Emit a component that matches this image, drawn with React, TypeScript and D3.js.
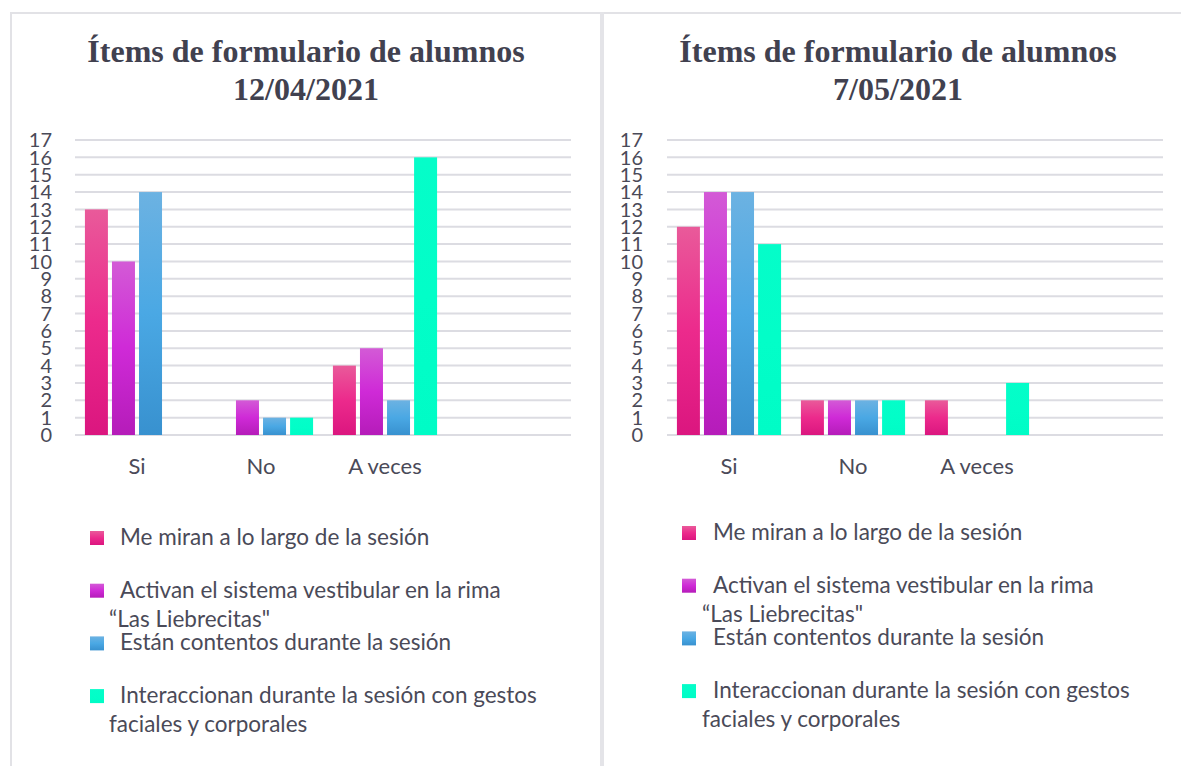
import React from 'react'
import * as d3 from 'd3'

const categories = ['Si', 'No', 'A veces', '']
const seriesKeys = ['mirar', 'vestibular', 'contentos', 'interaccion']
const legendLines = [
  ['Me miran a lo largo de la sesión'],
  ['Activan el sistema vestibular en la rima', '“Las Liebrecitas"'],
  ['Están contentos durante la sesión'],
  ['Interaccionan durante la sesión con gestos', 'faciales y corporales'],
]
const titleLine1 = 'Ítems de formulario de alumnos'
const dates = ['12/04/2021', '7/05/2021']
// one row per series, one value per category
const abril = [
  [13, 0, 4, 0],
  [10, 2, 5, 0],
  [14, 1, 2, 0],
  [0, 1, 16, 0],
]
const mayo = [
  [12, 2, 2, 0],
  [14, 2, 0, 0],
  [14, 2, 0, 0],
  [11, 2, 3, 0],
]
const yTicks = [0, 1, 2, 3, 4, 5, 6, 7, 8, 9, 10, 11, 12, 13, 14, 15, 16, 17]

const gradStops = [
  ['#e95a9a', '#ec2a8c', '#db167f'],
  ['#d35ad6', '#cf2ad7', '#b51cb9'],
  ['#6cb2e2', '#4aa8e4', '#3891cf'],
  ['#05fdc9', '#02fec8', '#00fcc6'],
]

const textColor = '#4a4a58'
const font = 'Lato, sans-serif'

function Panel({ values, date, plotLeft, plotRight, tickX, titleX, swatchX, textX, wrapX, legendY }) {
  const y = d3.scaleLinear().domain([0, 17]).range([435, 140])
  const x = d3.scaleBand().domain(categories).range([plotLeft, plotRight]).paddingInner(0.16).paddingOuter(0.08)
  const xs = d3.scaleBand().domain(seriesKeys).range([0, x.bandwidth()]).paddingInner(0.15)

  return (
    <g>
      <text x={titleX} y={62} textAnchor="middle" fontFamily="'Liberation Serif', 'Times New Roman', serif"
        fontWeight="bold" fontSize={32} fill="#41414f">
        <tspan x={titleX}>{titleLine1}</tspan>
        <tspan x={titleX} y={100}>{date}</tspan>
      </text>

      {yTicks.map(t => (
        <line key={'g' + t} x1={plotLeft} x2={plotRight} y1={y(t)} y2={y(t)} stroke="#dcdce2" strokeWidth={2} />
      ))}
      {yTicks.map(t => (
        <text key={'t' + t} x={tickX} y={y(t)} dy="0.36em" textAnchor="end" fontFamily={font} fontSize={20}
          fill={textColor}>{t}</text>
      ))}

      {categories.map((c, ci) => (
        <g key={c + ci} transform={`translate(${x(c)},0)`}>
          {seriesKeys.map((k, si) => {
            const v = values[si][ci]
            if (!v) return null
            return (
              <rect key={k} x={xs(k)} y={y(v)} width={xs.bandwidth()} height={y(0) - y(v)}
                fill={`url(#grad${si})`} />
            )
          })}
          <text x={x.bandwidth() / 2} y={474} textAnchor="middle" fontFamily={font} fontSize={22}
            fill={textColor}>{c}</text>
        </g>
      ))}

      {legendLines.map((lines, i) => {
        const ly = legendY + i * 52.7
        return (
          <g key={'l' + i}>
            <rect x={swatchX} y={ly - 14} width={14} height={14} fill={`url(#grad${i})`} />
            {lines.map((ln, j) => (
              <text key={j} x={j === 0 ? textX : wrapX} y={ly + j * 29} fontFamily={font} fontSize={22.5}
                fill={textColor}>{ln}</text>
            ))}
          </g>
        )
      })}
    </g>
  )
}

export default function App() {
  return (
    <svg width={1181} height={766} style={{ position: 'absolute', left: 0, top: 0, background: '#fff' }}>
      <defs>
        {gradStops.map((s, i) => (
          <linearGradient key={i} id={'grad' + i} x1="0" y1="0" x2="0" y2="1">
            <stop offset="0%" stopColor={s[0]} />
            <stop offset="50%" stopColor={s[1]} />
            <stop offset="100%" stopColor={s[2]} />
          </linearGradient>
        ))}
      </defs>
      <rect x={0} y={0} width={1181} height={766} fill="#fff" />
      <line x1={10} x2={1181} y1={13} y2={13} stroke="#e2e2e6" strokeWidth={2} />
      <line x1={11} x2={11} y1={12} y2={766} stroke="#e2e2e6" strokeWidth={2} />
      <line x1={602} x2={602} y1={12} y2={766} stroke="#e4e4e8" strokeWidth={4} />

      <Panel values={abril} date={dates[0]} plotLeft={75} plotRight={571} tickX={52} titleX={306}
        swatchX={90} textX={120} wrapX={109} legendY={545} />
      <Panel values={mayo} date={dates[1]} plotLeft={667} plotRight={1163} tickX={643} titleX={898}
        swatchX={682} textX={713} wrapX={702} legendY={540} />
    </svg>
  )
}
